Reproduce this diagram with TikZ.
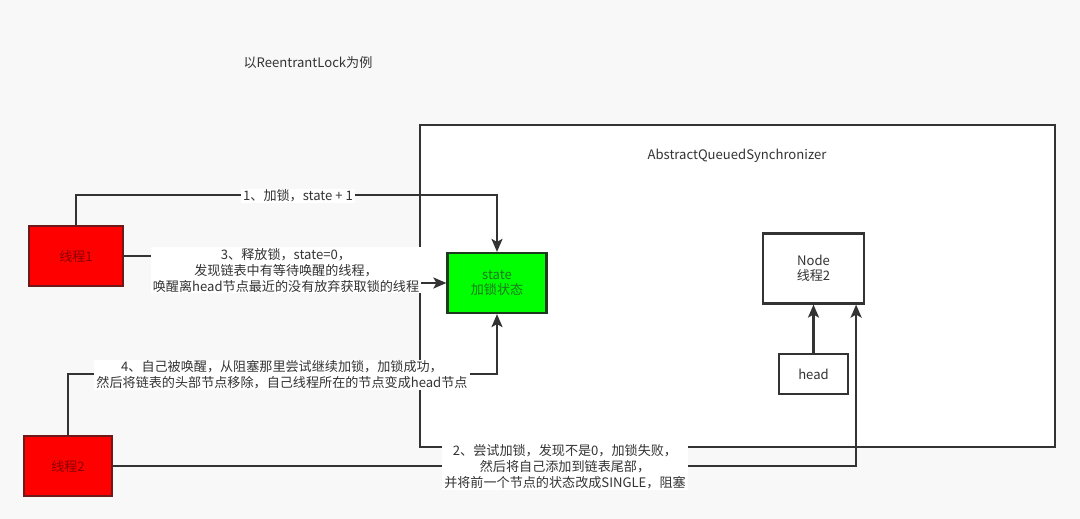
\documentclass[tikz,border=0pt]{standalone}
\usepackage{fontspec}
\setmainfont{Noto Sans CJK SC}
\usetikzlibrary{arrows.meta}
\definecolor{bg}{HTML}{F8F8F8}
\definecolor{ln}{HTML}{333333}
\definecolor{redfill}{HTML}{FF0000}
\definecolor{redline}{HTML}{6E1A1A}
\definecolor{redtext}{HTML}{8A0000}
\definecolor{greenfill}{HTML}{00FF00}
\definecolor{greenline}{HTML}{1E3A1E}
\definecolor{greentext}{HTML}{1E7A1E}
\begin{document}
\begin{tikzpicture}[x=1pt,y=-1pt,
  font=\fontsize{13.1}{16}\selectfont,
  every node/.style={text=ln},
  box/.style={draw=ln,line width=2.2pt,fill=white,align=center,inner sep=0pt},
  thread/.style={draw=redline,line width=2.2pt,fill=redfill,text=redtext,inner sep=0pt,minimum width=94,minimum height=60},
  statebox/.style={draw=greenline,line width=2.2pt,fill=greenfill,text=greentext,align=center,inner sep=0pt,minimum width=99,minimum height=60},
  conn/.style={draw=ln,line width=2.2pt,-{Stealth[length=13pt,width=11pt,inset=3pt]}},
  lbl/.style={fill=white,align=center,inner xsep=2pt,inner ysep=1pt}]
\fill[bg] (0,0) rectangle (1080,519);
\useasboundingbox (0,0) rectangle (1080,519);

\node (title) at (308,63) {以ReentrantLock为例};

\node[box,minimum width=635,minimum height=322] (aqs) at (737.5,286) {};
\node (aqst) at (737,156) {AbstractQueuedSynchronizer};

\node[thread] (t1) at (76,256) {线程1};
\node[thread,minimum width=88] (t2) at (68,466) {线程2};
\node[statebox] (state) at (497,283) {state\\[-1pt]加锁状态};
\node[box,minimum width=101,minimum height=70] (n) at (813.5,268.5) {Node\\[-1pt]线程2};
\node[box,minimum width=69,minimum height=40] (head) at (813.5,374) {head};

\draw[conn] (t1.north) -- ++(0,-30) -| (state.north);
\draw[conn] (t1.east) -- ++(160,0) |- (state.west);
\draw[conn] (t2.north) -- ++(0,-61) -| (state.south);
\draw[conn] (t2.east) -| ([xshift=-9pt]n.south east);
\draw[conn] (head.north) -- (n.south);

\node[lbl] (l1) at (298,196) {1、加锁，state + 1};
\node[lbl] (l3) at (286,270) {3、释放锁，state=0，\\发现链表中有等待唤醒的线程，\\唤醒离head节点最近的没有放弃获取锁的线程};
\node[lbl] (l4) at (282,375) {4、自己被唤醒，从阻塞那里尝试继续加锁，加锁成功，\\然后将链表的头部节点移除，自己线程所在的节点变成head节点};
\node[lbl] (l2) at (565,467) {2、尝试加锁，发现不是0，加锁失败，\\然后将自己添加到链表尾部，\\并将前一个节点的状态改成SINGLE，阻塞};
\end{tikzpicture}
\end{document}
